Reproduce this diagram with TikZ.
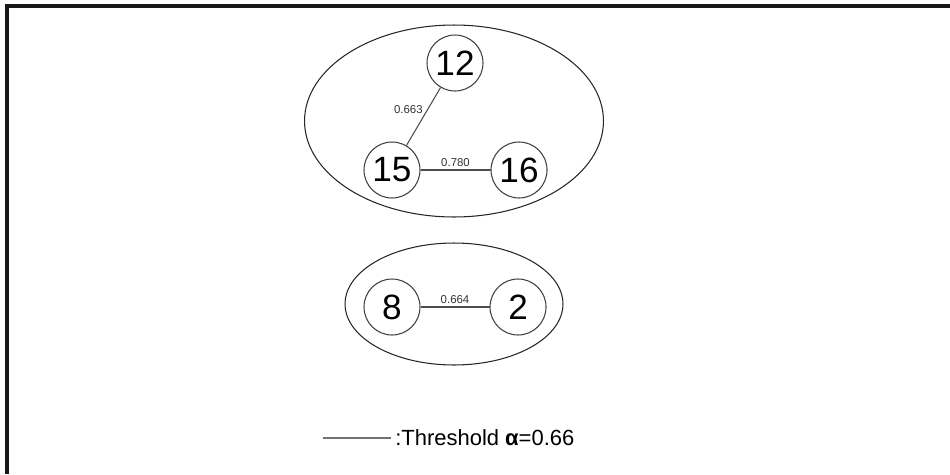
\documentclass[tikz,border=0pt]{standalone}
\usepackage{fontspec}
\setmainfont{Liberation Sans}
\usetikzlibrary{positioning,shapes.geometric}

\begin{document}
\begin{tikzpicture}[x=0.02cm, y=-0.02cm,
    vertex/.style={circle, draw=black!75, line width=0.6pt, minimum size=1.12cm,
    inner sep=0pt, font=\fontsize{20}{20}\selectfont},
    cluster/.style={ellipse, draw=black!85, line width=0.6pt, inner sep=0pt},
    link/.style={draw=black!70, line width=0.6pt},
    weight/.style={font=\fontsize{6.5}{7}\selectfont, text=black!80, inner sep=1.5pt}]
    \useasboundingbox (0,0) rectangle (950,474);

    % frame, only top and left
    \draw[line width=2.2pt, black!90] (950,6) -- (7,6) -- (7,474);

    % first group
    \node (c1) [cluster, minimum width=5.98cm, minimum height=3.84cm] at (454,121) {};
    \node (n12) [vertex] at (455,63) {12};
    \node (n15) [vertex] at (392,170) {15};
    \node (n16) [vertex, right=1.4cm of n15] {16};

    \draw[link] (n15) -- node[weight, left, pos=0.62, xshift=-1pt] {0.663} (n12);
    \draw[link] (n15) -- node[weight, above] {0.780} (n16);

    % second group
    \node (c2) [cluster, minimum width=4.36cm, minimum height=2.44cm] at (454,304) {};
    \node (n8) [vertex] at (392,307) {8};
    \node (n2) [vertex, right=1.38cm of n8] {2};

    \draw[link] (n8) -- node[weight, above] {0.664} (n2);

    % legend
    \coordinate (leg) at (323,438);
    \node (thr) [anchor=west, inner sep=0pt, font=\fontsize{12.5}{13}\selectfont] at (395,438) {:Threshold {\bfseries α}=0.66};
    \draw[link, draw=black!55] (leg) -- ([xshift=-2.5pt]thr.west);
\end{tikzpicture}
\end{document}
